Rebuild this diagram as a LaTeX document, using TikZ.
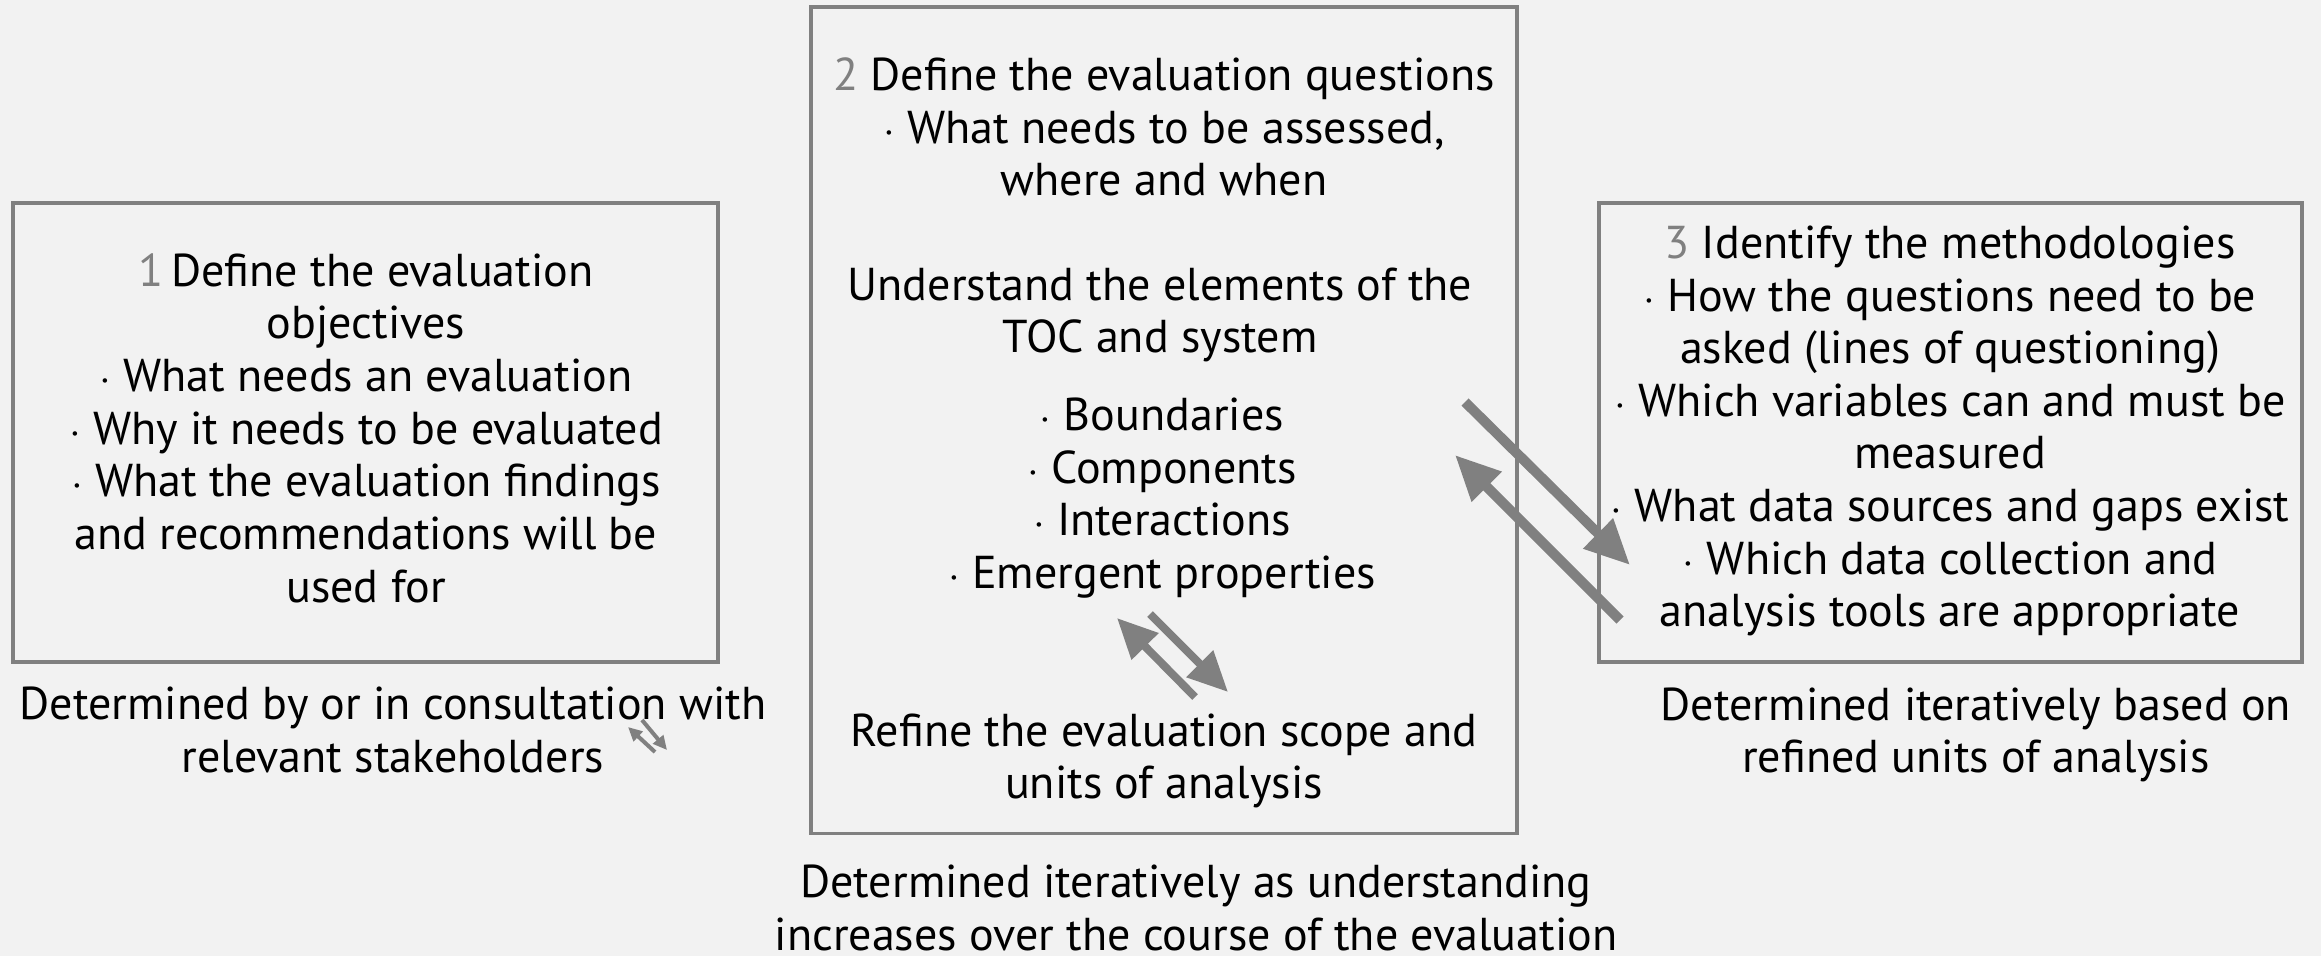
\documentclass[tikz,border=0pt]{standalone}
\usepackage{fontspec}
\setmainfont{PT Sans}
\usetikzlibrary{arrows.meta}
\definecolor{bg}{HTML}{F2F2F2}
\definecolor{framec}{HTML}{808080}
\definecolor{numc}{HTML}{808080}
\newcommand{\nm}[1]{\textcolor{numc}{#1}}
\begin{document}
\begin{tikzpicture}[x=0.01cm,y=-0.01cm,
  boxst/.style={draw=framec,line width=0.035cm,fill=none,inner sep=0pt},
  txt/.style={align=center,inner sep=0pt,font=\fontsize{13.1}{14.97}\selectfont},
  bigarr/.style={draw=framec,line width=0.1cm,-{Triangle[width=0.4cm,length=0.45cm]}},
  midarr/.style={draw=framec,line width=0.08cm,-{Triangle[width=0.36cm,length=0.4cm]}},
  smallarr/.style={draw=framec,line width=0.04cm,-{Triangle[width=0.13cm,length=0.14cm]}}]
\fill[bg] (0,0) rectangle (2321,956);
\useasboundingbox (0,0) rectangle (2321,956);
% boxes
\node[boxst,minimum width=7.05cm,minimum height=4.59cm] (b1) at (365.5,432.5) {};
\node[boxst,minimum width=7.06cm,minimum height=8.26cm] (b2) at (1164,420) {};
\node[boxst,minimum width=7.03cm,minimum height=4.59cm] (b3) at (1950.5,432.5) {};
% box 1 text
\node[txt] (t1) at (366,428) {\nm{1}\,Define the evaluation\\objectives\\$\cdot$ What needs an evaluation\\$\cdot$ Why it needs to be evaluated\\$\cdot$ What the evaluation findings\\and recommendations will be\\used for};
% box 2 text
\node[txt] (t2a) at (1164,127) {\nm{2} Define the evaluation questions\\$\cdot$ What needs to be assessed,\\where and when};
\node[txt] (t2b) at (1160,315) {Understand the elements of the\\TOC and system};
\node[txt] (t2c) at (1162,498) {$\cdot$ Boundaries\\$\cdot$ Components\\$\cdot$ Interactions\\$\cdot$ Emergent properties};
\node[txt] (t2d) at (1164,761) {Refine the evaluation scope and\\units of analysis};
% box 3 text
\node[txt] (t3) at (1950,431) {\nm{3} Identify the methodologies\\$\cdot$ How the questions need to be\\asked (lines of questioning)\\$\cdot$ Which variables can and must be\\measured\\$\cdot$ What data sources and gaps exist\\$\cdot$ Which data collection and\\analysis tools are appropriate};
% captions
\node[txt] (c1) at (393,730) {Determined by or in consultation with\\relevant stakeholders};
\node[txt] (c2) at (1196,908) {Determined iteratively as understanding\\increases over the course of the evaluation};
\node[txt] (c3) at (1976,735) {Determined iteratively based on\\refined units of analysis};
% arrow coordinates
\coordinate (p1s) at (1465,402); \coordinate (p1e) at (1630,565);
\coordinate (p2s) at (1620,620); \coordinate (p2e) at (1455,455);
\coordinate (m1s) at (1150,614); \coordinate (m1e) at (1228,692);
\coordinate (m2s) at (1195,697); \coordinate (m2e) at (1117,618);
\coordinate (s1s) at (642,720); \coordinate (s1e) at (667,750);
\coordinate (s2s) at (655,752); \coordinate (s2e) at (628,727);
\draw[bigarr] (p1s) -- (p1e);
\draw[bigarr] (p2s) -- (p2e);
\draw[midarr] (m1s) -- (m1e);
\draw[midarr] (m2s) -- (m2e);
\draw[smallarr] (s1s) -- (s1e);
\draw[smallarr] (s2s) -- (s2e);
\end{tikzpicture}
\end{document}
